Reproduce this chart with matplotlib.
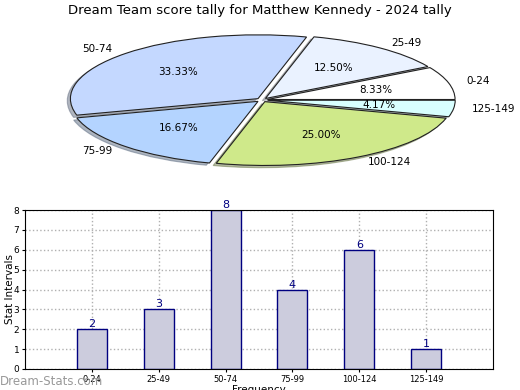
import numpy as np
import matplotlib
matplotlib.use('Agg')
from matplotlib import pyplot as plt

labels = ['0-24', '25-49', '50-74', '75-99', '100-124', '125-149']
counts = [2, 3, 8, 4, 6, 1]
pie_colors = ['#ffffff', '#eaf2ff', '#c4d8ff', '#b4d4ff', '#cfe98a', '#d8ffff']

fig = plt.figure(figsize=(5.2, 3.9), dpi=100)
fig.text(0.5, 0.972, 'Dream Team score tally for Matthew Kennedy - 2024 tally',
         ha='center', va='center', fontsize=9.5)

# pie (squashed ellipse)
ax1 = fig.add_axes([65/520, 1-167/390, 394/520, 134/390])
wedges, texts, autotexts = ax1.pie(counts, labels=labels, colors=pie_colors,
                                   explode=[0.03]*6,
                                   shadow={'ox': -0.012, 'oy': -0.025, 'shade': 0.5},
                                   startangle=0, counterclock=True, autopct='%.2f%%',
                                   pctdistance=0.6, labeldistance=1.1,
                                   wedgeprops={'edgecolor': '#222222', 'linewidth': 0.8},
                                   textprops={'fontsize': 7.5})
ax1.set_aspect('auto')
ax1.set_xlim(-1.05, 1.05)
ax1.set_ylim(-1.05, 1.05)

# bar chart
ax2 = fig.add_axes([25/520, 1-369/390, 468/520, 159/390])
x = np.arange(len(labels))
ax2.bar(x, counts, width=0.45, color='#ccccdd', edgecolor='#000080', linewidth=1, zorder=2)
for xi, c in zip(x, counts):
    ax2.text(xi, c, str(c), ha='center', va='bottom', color='#000080', fontsize=8)
ax2.set_xlim(-1, 6)
ax2.set_ylim(0, 8)
ax2.set_xticks(x)
ax2.set_xticklabels(labels, fontsize=6)
ax2.set_yticks(range(9))
ax2.tick_params(axis='y', labelsize=6.5, length=2, pad=2)
ax2.tick_params(axis='x', length=2, pad=2)
ax2.grid(True, linestyle=':', color='#b0b0b0', linewidth=1, zorder=0)
ax2.set_ylabel('Stat Intervals', fontsize=7.5)
ax2.yaxis.set_label_coords(-0.022, 0.5)
ax2.set_xlabel('Frequency', fontsize=7.5, labelpad=1)

fig.text(0.0, 0.005, 'Dream-Stats.com', color='#999999', fontsize=8.5, ha='left', va='bottom')

plt.savefig('out.png', dpi=100)
